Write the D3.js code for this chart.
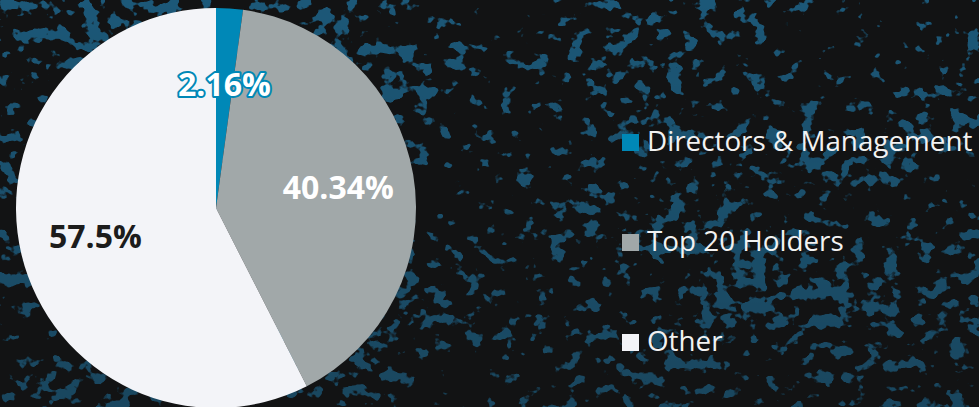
<!DOCTYPE html>
<html>
<head>
<meta charset="utf-8">
<script src="https://cdn.jsdelivr.net/npm/d3@7"></script>
<style>
  html, body { margin: 0; padding: 0; background: #121314; }
  svg { display: block; }
  text { font-family: "Open Sans", "Noto Sans", sans-serif; }
</style>
</head>
<body>
<svg id="chart" width="979" height="407"></svg>
<script>
// Shareholding breakdown
const categories = ["Directors & Management", "Top 20 Holders", "Other"];
const values = [2.16, 40.34, 57.5];
const valueLabels = ["2.16%", "40.34%", "57.5%"];
const colors = ["#0088b7", "#a1a8a9", "#f3f4f8"];
const labelColors = ["#ffffff", "#ffffff", "#1c1c1c"];

const W = 979, H = 407;
const svg = d3.select("#chart");

// Dark backdrop with a speckled blue texture, a little denser towards the top
const defs = svg.append("defs");
const f = defs.append("filter").attr("id", "speckle")
  .attr("filterUnits", "userSpaceOnUse")
  .attr("x", 0).attr("y", 0).attr("width", W).attr("height", H);
f.append("feTurbulence").attr("type", "fractalNoise").attr("baseFrequency", "0.06 0.07")
  .attr("numOctaves", 3).attr("seed", 5).attr("result", "fine");
f.append("feColorMatrix").attr("in", "fine").attr("type", "matrix")
  .attr("values", "0 0 0 0 0  0 0 0 0 0  0 0 0 0 0  1 0 0 0 0").attr("result", "fineA");
f.append("feTurbulence").attr("type", "fractalNoise").attr("baseFrequency", "0.005 0.008")
  .attr("numOctaves", 2).attr("seed", 8).attr("result", "coarse");
f.append("feColorMatrix").attr("in", "coarse").attr("type", "matrix")
  .attr("values", "0 0 0 0 0  0 0 0 0 0  0 0 0 0 0  1 0 0 0 0").attr("result", "coarseA");
f.append("feComposite").attr("in", "fineA").attr("in2", "coarseA").attr("operator", "arithmetic")
  .attr("k1", 0).attr("k2", 1).attr("k3", 0.45).attr("k4", -0.225).attr("result", "mix");
const ct = f.append("feComponentTransfer").attr("in", "mix").attr("result", "thr");
ct.append("feFuncA").attr("type", "linear").attr("slope", 16).attr("intercept", -9.5);
f.append("feFlood").attr("flood-color", "#1b5878").attr("result", "blue");
f.append("feComposite").attr("in", "blue").attr("in2", "thr").attr("operator", "in");

// Fade that lets the speckle thin out towards the bottom
const fade = defs.append("linearGradient").attr("id", "fade")
  .attr("x1", 0).attr("y1", 0).attr("x2", 0).attr("y2", 1);
fade.append("stop").attr("offset", "0%").attr("stop-color", "#fff").attr("stop-opacity", 1);
fade.append("stop").attr("offset", "100%").attr("stop-color", "#fff").attr("stop-opacity", 0.75);
const m = defs.append("mask").attr("id", "fadeMask")
  .attr("maskUnits", "userSpaceOnUse").attr("x", 0).attr("y", 0).attr("width", W).attr("height", H);
m.append("rect").attr("width", W).attr("height", H).attr("fill", "url(#fade)");

svg.append("rect").attr("width", W).attr("height", H).attr("fill", "#121314");
svg.append("g").attr("mask", "url(#fadeMask)")
  .append("rect").attr("width", W).attr("height", H).attr("filter", "url(#speckle)");

// Pie
const cx = 216, cy = 208, radius = 200;
const pie = d3.pie().sort(null).value(d => d.value);
const arcs = pie(categories.map((c, i) => ({ name: c, value: values[i], i })));
const arc = d3.arc().innerRadius(0).outerRadius(radius);
const labelArc = d3.arc().innerRadius(radius * 0.62).outerRadius(radius * 0.62);

const g = svg.append("g").attr("transform", `translate(${cx},${cy})`);
g.selectAll("path.slice").data(arcs).join("path")
  .attr("class", "slice")
  .attr("d", arc)
  .attr("fill", d => colors[d.data.i]);

// Value labels; the narrow slice's label gets a halo in its own colour so it stays legible
g.selectAll("text.val").data(arcs).join("text")
  .attr("class", "val")
  .attr("transform", d => `translate(${labelArc.centroid(d)})`)
  .attr("text-anchor", "middle")
  .attr("dy", "0.36em")
  .attr("font-size", 32)
  .attr("font-weight", 700)
  .attr("fill", d => labelColors[d.data.i])
  .attr("stroke", d => (d.endAngle - d.startAngle) < 0.5 ? colors[d.data.i] : "none")
  .attr("stroke-width", 4)
  .attr("stroke-linejoin", "round")
  .attr("paint-order", "stroke")
  .text(d => valueLabels[d.data.i]);

// Legend
const legend = svg.append("g").attr("transform", "translate(622,134)");
const item = legend.selectAll("g").data(categories).join("g")
  .attr("transform", (d, i) => `translate(0,${i * 100})`);
item.append("rect").attr("width", 17).attr("height", 17)
  .attr("fill", (d, i) => colors[i]);
item.append("text").attr("x", 25).attr("y", 17)
  .attr("font-size", 27.8).attr("fill", "#f2f2f2")
  .text(d => d);
</script>
</body>
</html>
